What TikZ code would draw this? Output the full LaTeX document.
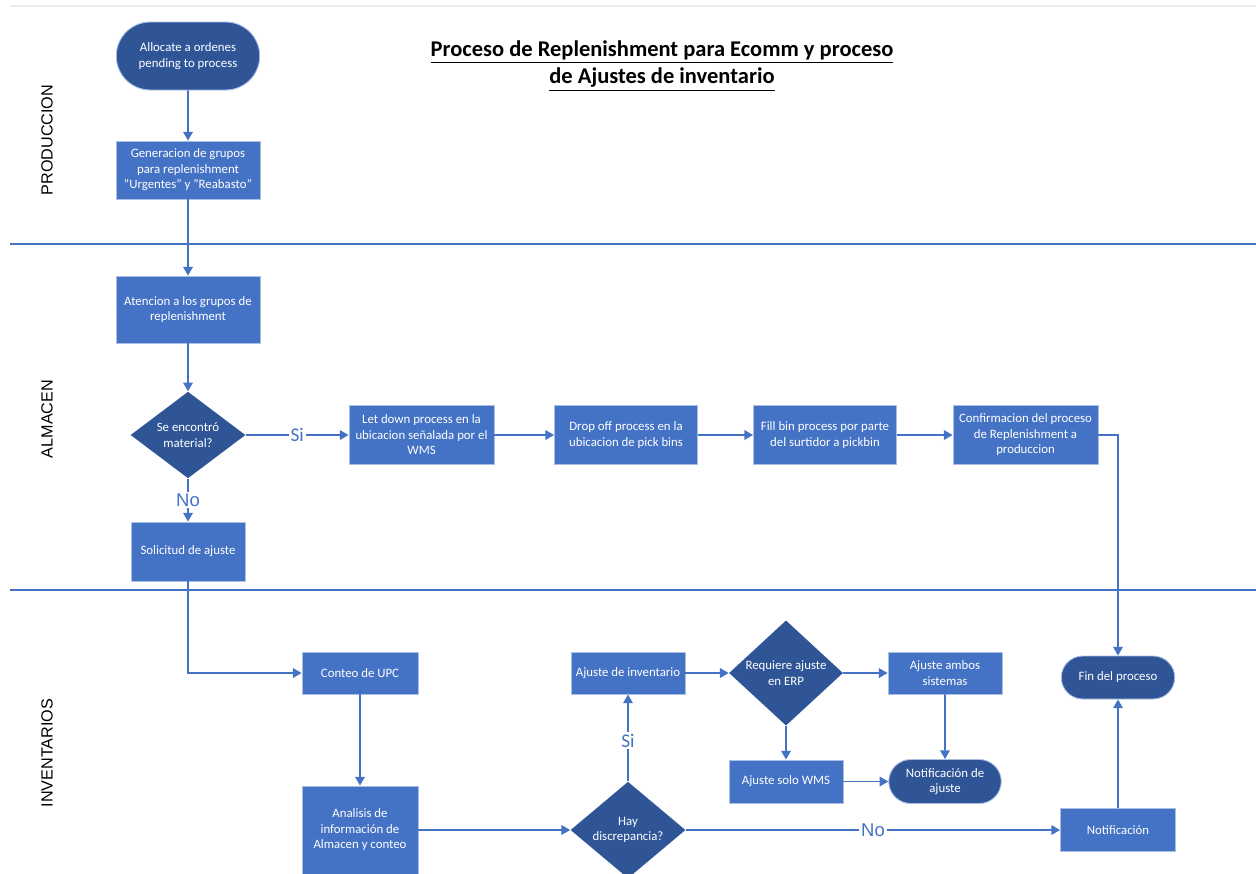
\documentclass[tikz,border=0pt]{standalone}
\usepackage{fontspec}
\setmainfont{Carlito}
\newfontfamily\arialfont{Liberation Sans}
\usepackage{tikz}
\usetikzlibrary{shapes.geometric,shapes.misc,arrows.meta,positioning,calc}
\definecolor{procblue}{HTML}{4472C4}
\definecolor{termblue}{HTML}{2F5597}
\definecolor{edgeblue}{HTML}{A9BFE6}
\tikzset{>={Triangle[length=5pt,width=5.5pt]}}
\tikzset{
  txt/.style = {text=white, align=center, font=\fontsize{7.3}{8.8}\selectfont, inner sep=1pt},
  proc/.style = {txt, rectangle, fill=procblue, draw=edgeblue, line width=0.5pt},
  term/.style = {txt, rounded rectangle, fill=termblue, draw=edgeblue, line width=0.5pt},
  decis/.style = {txt, diamond, fill=termblue, inner sep=0pt},
  line/.style = {draw=procblue, line width=0.9pt},
  lane/.style = {draw=procblue, line width=0.8pt},
  lanename/.style = {rotate=90, font=\arialfont\fontsize{9.2}{11}\selectfont},
  silabel/.style = {fill=white, text=procblue, inner sep=1pt, font=\fontsize{11}{13}\selectfont},
  nolabel/.style = {fill=white, text=procblue, inner sep=1pt, font=\arialfont\fontsize{10.5}{12}\selectfont}
}

\begin{document}
\begin{tikzpicture}[x=0.02cm, y=-0.02cm]
  \useasboundingbox (0,0) rectangle (1256,873);
  % lanes
  \draw [black!8, line width=0.8pt] (10,6) -- (1256,6);
  \draw [lane] (10,244) -- (1256,244);
  \draw [lane] (10,590) -- (1256,590);
  \node [lanename] (prodlane) at (47,140) {PRODUCCION};
  \node [lanename] (almlane) at (47,419) {ALMACEN};
  \node [lanename] (invlane) at (47,753) {INVENTARIOS};
  \node [align=center, font=\bfseries\fontsize{12.8}{15.4}\selectfont] (title) at (662,66)
    {\underline{Proceso de Replenishment para Ecomm y proceso}\\ \underline{de Ajustes de inventario}};

  % produccion
  \node [term, minimum width=2.94cm, minimum height=1.36cm] (alloc) at (188,56) {Allocate a ordenes\\pending to process};
  \node [proc, minimum width=2.88cm, minimum height=1.16cm] (gen) at (188,170) {Generacion de grupos\\para replenishment\\"Urgentes" y "Reabasto"};

  % almacen
  \node [proc, minimum width=2.88cm, minimum height=1.34cm] (aten) at (188,309.5) {Atencion a los grupos de\\replenishment};
  \node [decis, minimum width=2.3cm, minimum height=1.72cm] (enc) at (188,435) {Se encontró\\material?};
  \node [proc, minimum width=2.28cm, minimum height=1.18cm] (solic) at (188,551.5) {Solicitud de ajuste};
  \node [proc, minimum width=2.9cm, minimum height=1.18cm] (letdown) at (421.5,435) {Let down process en la\\ubicacion señalada por el\\WMS};
  \node [proc, minimum width=2.86cm, minimum height=1.18cm] (dropoff) at (626,435) {Drop off process en la\\ubicacion de pick bins};
  \node [proc, minimum width=2.86cm, minimum height=1.18cm] (fillbin) at (825,435) {Fill bin process por parte\\del surtidor a pickbin};
  \node [proc, minimum width=2.9cm, minimum height=1.18cm] (confirm) at (1025.5,435) {Confirmacion del proceso\\de Replenishment a\\produccion};

  % inventarios
  \node [proc, minimum width=2.32cm, minimum height=0.84cm] (conteo) at (360,673) {Conteo de UPC};
  \node [proc, minimum width=2.32cm, minimum height=1.76cm] (analisis) at (360,830) {Analisis de\\información de\\Almacen y conteo};
  \node [decis, minimum width=2.3cm, minimum height=1.72cm] (hay) at (628,830) {Hay\\discrepancia?};
  \node [proc, minimum width=2.28cm, minimum height=0.84cm] (ajinv) at (628,673) {Ajuste de inventario};
  \node [decis, minimum width=2.28cm, minimum height=1.74cm] (req) at (786,673) {Requiere ajuste\\en ERP};
  \node [proc, minimum width=2.28cm, minimum height=0.84cm] (ambos) at (945,673) {Ajuste ambos\\sistemas};
  \node [proc, minimum width=2.28cm, minimum height=0.86cm] (solo) at (786,781.5) {Ajuste solo WMS};
  \node [term, minimum width=2.32cm, minimum height=0.88cm] (notaj) at (945,781.5) {Notificación de\\ajuste};
  \node [proc, minimum width=2.3cm, minimum height=0.86cm] (notif) at (1118,830) {Notificación};
  \node [term, minimum width=2.34cm, minimum height=0.86cm] (fin) at (1118,677.5) {Fin del proceso};
  \coordinate (cturn) at (1118,435);
  \coordinate (sturn) at (188,673);

  % connectors
  \path [line,->] (alloc) -- (gen);
  \path [line,->] (gen) -- (aten);
  \path [line,->] (aten) -- (enc);
  \path [line,->] (enc) -- node [silabel, pos=0.5] {Si} (letdown);
  \path [line,->] (enc) -- node [nolabel, pos=0.5] {No} (solic);
  \path [line,->] (letdown) -- (dropoff);
  \path [line,->] (dropoff) -- (fillbin);
  \path [line,->] (fillbin) -- (confirm);
  \path [line,->] (confirm.east) -- (cturn) -- (fin.north);
  \path [line,->] (solic.south) -- (sturn) -- (conteo.west);
  \path [line,->] (conteo) -- (analisis);
  \path [line,->] (analisis) -- (hay);
  \path [line,->] (hay.north) -- node [silabel, pos=0.47] {Si} (ajinv.south);
  \path [line,->] (ajinv) -- (req);
  \path [line,->] (req) -- (ambos);
  \path [line,->] (req) -- (solo);
  \path [line,->] (ambos) -- (notaj);
  \path [line,->] (solo) -- (notaj);
  \path [line,->] (hay) -- node [nolabel, pos=0.5] {No} (notif);
  \path [line,->] (notif) -- (fin);
\end{tikzpicture}
\end{document}
